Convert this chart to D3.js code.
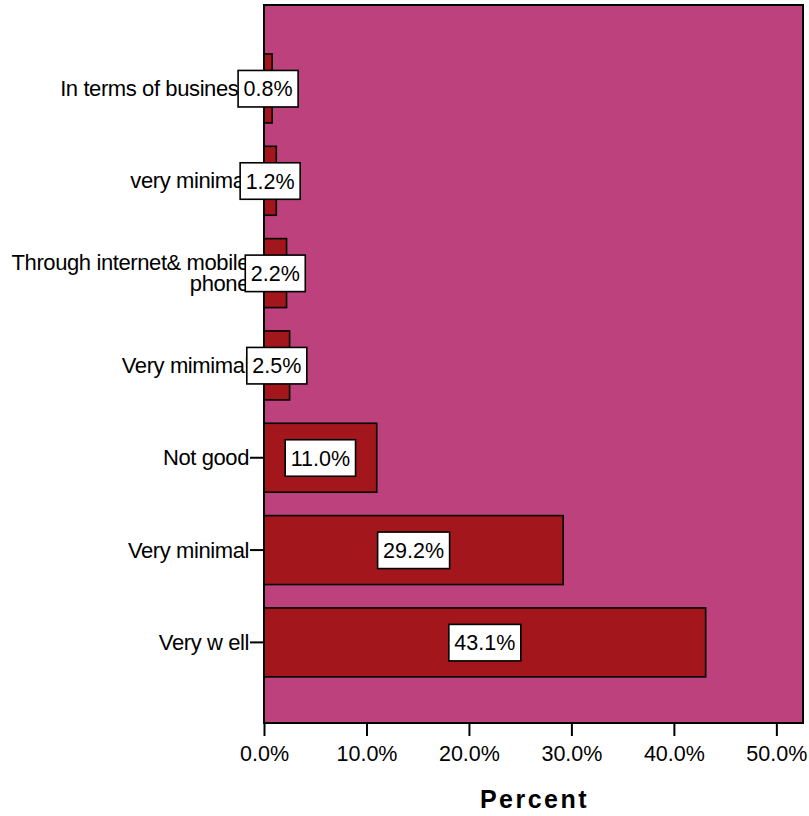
<!DOCTYPE html>
<html><head><meta charset="utf-8">
<script src="https://cdn.jsdelivr.net/npm/d3@7"></script>
<style>body{margin:0;background:#fff}svg{display:block}text{font-family:"Liberation Sans",Arial,sans-serif}</style>
</head><body><svg id="c" width="809" height="816"></svg>
<script>
const categories = ["In terms of business", "very minimal", "Through internet& mobile phone", "Very mimimal", "Not good", "Very minimal", "Very w ell"];
const categoryLines = [["In terms of business"], ["very minimal"], ["Through internet& mobile", "phone"], ["Very mimimal"], ["Not good"], ["Very minimal"], ["Very w ell"]];
const percents = [0.8, 1.2, 2.2, 2.5, 11.0, 29.2, 43.1];
const tickValues = [0, 10, 20, 30, 40, 50];

const svg = d3.select("#c");
const L = 264, R = 803, T = 5, B = 723;
const x = d3.scaleLinear().domain([0, 52.6]).range([L, R]);
const y = d3.scaleBand().domain(categories).range([T, B]).paddingInner(0.253).paddingOuter(0.515).align(0.515);

svg.append("rect").attr("x", L).attr("y", T).attr("width", R - L).attr("height", B - T)
  .attr("fill", "#BD417D");

// bars
svg.selectAll("rect.bar").data(percents).join("rect").attr("class", "bar")
  .attr("x", x(0)).attr("y", (d, i) => y(categories[i]))
  .attr("width", d => x(d) - x(0)).attr("height", y.bandwidth())
  .attr("fill", "#A3171C").attr("stroke", "#000").attr("stroke-width", 1.6);

// plot border
svg.append("rect").attr("x", L).attr("y", T).attr("width", R - L).attr("height", B - T)
  .attr("fill", "none").attr("stroke", "#000").attr("stroke-width", 2);

// x axis
const xAxis = d3.axisBottom(x).tickValues(tickValues).tickFormat(d => d.toFixed(1) + "%").tickSize(13).tickSizeOuter(0);
const gx = svg.append("g").attr("transform", `translate(0,${B})`).call(xAxis);
gx.select(".domain").remove();
gx.selectAll(".tick line").attr("stroke", "#000").attr("stroke-width", 2);
gx.selectAll(".tick text").attr("font-size", 21.5).attr("fill", "#000").attr("dy", 0).attr("y", 38)
  .attr("font-family", "Liberation Sans, Arial, sans-serif");

// y axis ticks and labels
const yAxis = d3.axisLeft(y).tickSize(14).tickFormat("").tickSizeOuter(0);
const gy = svg.append("g").attr("transform", `translate(${L},0)`).call(yAxis);
gy.select(".domain").remove();
gy.selectAll(".tick line").attr("stroke", "#000").attr("stroke-width", 2);

const lab = svg.append("g");
categories.forEach((c, i) => {
  const cy = y(c) + y.bandwidth() / 2;
  const lines = categoryLines[i];
  const t = lab.append("text").attr("text-anchor", "end").attr("font-size", 22)
    .attr("letter-spacing", -0.4).attr("fill", "#000");
  const lh = 21;
  const first = cy + 7.5 - (lines.length - 1) * lh / 2 - (lines.length > 1 ? 0.5 : 0);
  lines.forEach((s, j) => t.append("tspan").attr("x", 249).attr("y", first + j * lh).text(s));
});

// value labels
const vl = svg.append("g");
percents.forEach((v, i) => {
  const cx = (x(0) + x(v)) / 2;
  const cy = y(categories[i]) + y.bandwidth() / 2;
  const g = vl.append("g");
  const r = g.append("rect");
  const t = g.append("text").attr("x", cx).attr("y", cy + 7.8).attr("text-anchor", "middle")
    .attr("font-size", 21.5).attr("fill", "#000").text(v.toFixed(1) + "%");
  const w = t.node().getComputedTextLength() + 11;
  r.attr("x", cx - w / 2).attr("y", cy - 18).attr("width", w).attr("height", 36.5)
    .attr("fill", "#fff").attr("stroke", "#000").attr("stroke-width", 1.6);
});

// axis title
svg.append("text").attr("x", (L + R) / 2 + 1).attr("y", 808).attr("text-anchor", "middle")
  .attr("font-size", 25).attr("font-weight", "bold").attr("letter-spacing", 2.5).attr("fill", "#000").text("Percent");
</script></body></html>
